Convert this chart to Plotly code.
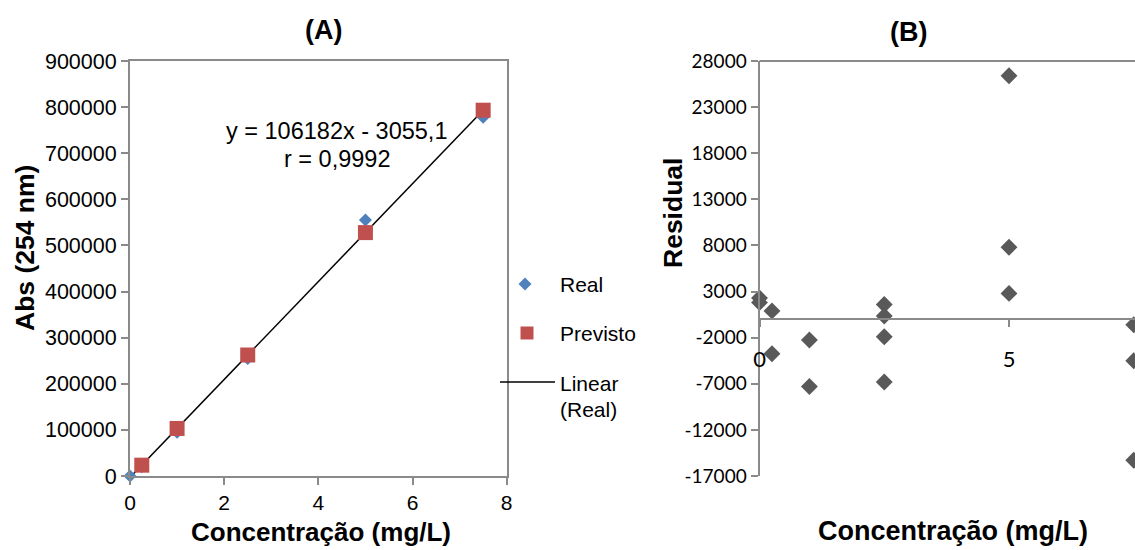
import plotly.graph_objects as go

# ---------------- data ----------------
real_x = [0, 0.25, 1, 2.5, 5, 7.5]
real_y = [0, 20000, 95000, 255000, 555000, 778000]
prev_x = [0.25, 1, 2.5, 5, 7.5]
prev_y = [23490, 103127, 262400, 527855, 793310]
trend_slope = 106182
trend_intercept = -3055.1
trend_x = [0, 7.5]
resid_x = [0, 0, 0.25, 0.25, 1, 1, 2.5, 2.5, 2.5, 2.5, 5, 5, 5, 7.5, 7.5, 7.5]
resid_y = [2300, 1800, 900, -3750, -2250, -7300, 1600, 350, -1900, -6800,
           26400, 7800, 2800, -600, -4500, -15300]
a_yticks = [0, 100000, 200000, 300000, 400000, 500000, 600000, 700000, 800000, 900000]
b_yticks = [-17000, -12000, -7000, -2000, 3000, 8000, 13000, 18000, 23000, 28000]
b_yticklabels = ["-17000", "-12000", "-7000", "-2000", "3000", "8000",
                 "13000", "18000", "23000", "28000"]

W, H = 1135, 550
def px(x): return x / W
def py(y): return 1 - y / H

TOP, BOT = 61, 476
A_L, A_R = 130, 506.7
B_L, B_R = 759.5, 1135
B_MIN, B_MAX = -17000, 28000
zero_pix = TOP + (B_MAX - 0) / (B_MAX - B_MIN) * (BOT - TOP)

AX = "#8a8a8a"
ARIAL = "Liberation Sans, Arial, sans-serif"
CAL = "Lato, Carlito, Calibri, sans-serif"

fig = go.Figure()
trend_y = [trend_slope * x + trend_intercept for x in trend_x]
fig.add_trace(go.Scatter(x=trend_x, y=trend_y, mode="lines",
                         line=dict(color="black", width=1.5),
                         xaxis="x", yaxis="y", showlegend=False))
fig.add_trace(go.Scatter(x=real_x, y=real_y, mode="markers",
                         marker=dict(symbol="diamond", size=10, color="#4F81BD"),
                         xaxis="x", yaxis="y", cliponaxis=False, showlegend=False))
fig.add_trace(go.Scatter(x=prev_x, y=prev_y, mode="markers",
                         marker=dict(symbol="square", size=15, color="#C0504D"),
                         xaxis="x", yaxis="y", cliponaxis=False, showlegend=False))
fig.add_trace(go.Scatter(x=resid_x, y=resid_y, mode="markers",
                         marker=dict(symbol="diamond", size=13, color="#595959"),
                         xaxis="x2", yaxis="y2", cliponaxis=False, showlegend=False))
# legend symbols on an overlay pixel axis
fig.add_trace(go.Scatter(x=[525], y=[284], mode="markers",
                         marker=dict(symbol="diamond", size=10, color="#4F81BD"),
                         xaxis="x3", yaxis="y3", showlegend=False, cliponaxis=False))
fig.add_trace(go.Scatter(x=[527], y=[333], mode="markers",
                         marker=dict(symbol="square", size=13, color="#C0504D"),
                         xaxis="x3", yaxis="y3", showlegend=False, cliponaxis=False))

fig.update_layout(
    width=W, height=H, margin=dict(l=0, r=0, t=0, b=0, pad=0, autoexpand=False),
    paper_bgcolor="white", plot_bgcolor="rgba(0,0,0,0)",
    showlegend=False,
    xaxis=dict(domain=[px(A_L), px(A_R)], range=[0, 8], dtick=2, tick0=0,
               showline=True, linecolor=AX, linewidth=2, mirror=True,
               ticks="outside", ticklen=7, tickcolor=AX, tickwidth=2,
               showgrid=False, zeroline=False, anchor="y", automargin=False,
               tickfont=dict(family=ARIAL, size=21, color="black")),
    yaxis=dict(domain=[py(BOT), py(TOP)], range=[0, 900000],
               tickvals=a_yticks, tickformat="d",
               showline=True, linecolor=AX, linewidth=2, mirror=True,
               ticks="outside", ticklen=7, tickcolor=AX, tickwidth=2,
               showgrid=False, zeroline=False, anchor="x", automargin=False,
               tickfont=dict(family=ARIAL, size=21.5, color="black")),
    xaxis2=dict(domain=[px(B_L), px(B_R)], range=[0, (B_R - B_L) / 49.9],
                tickvals=[0, 5], anchor="free", position=py(zero_pix),
                showline=True, linecolor=AX, linewidth=2,
                ticks="outside", ticklen=7, tickcolor=AX, tickwidth=2,
                ticklabelstandoff=13, automargin=False,
                showgrid=False, zeroline=False,
                tickfont=dict(family=CAL, size=22, color="black")),
    yaxis2=dict(domain=[py(BOT), py(TOP)], range=[B_MIN, B_MAX],
                tickvals=b_yticks, ticktext=b_yticklabels, anchor="x2",
                showline=True, linecolor=AX, linewidth=2,
                ticks="outside", ticklen=7, tickcolor=AX, tickwidth=2,
                showgrid=False, zeroline=False, automargin=False,
                tickfont=dict(family=CAL, size=19, color="black")),
    xaxis3=dict(domain=[0, 1], range=[0, W], visible=False, anchor="y3",
                fixedrange=True, automargin=False),
    yaxis3=dict(domain=[0, 1], range=[H, 0], visible=False, anchor="x3",
                fixedrange=True, automargin=False),
)

shapes = [
    dict(type="line", xref="paper", yref="paper", x0=px(B_L), x1=1, y0=py(TOP), y1=py(TOP),
         line=dict(color=AX, width=2)),
    dict(type="line", xref="x3", yref="y3", x0=500, x1=555, y0=382, y1=382,
         line=dict(color="black", width=1.5)),
]
fig.update_layout(shapes=shapes)

def ann(text, x, y, size, bold=False, family=ARIAL, xanchor="center", angle=0):
    t = f"<b>{text}</b>" if bold else text
    return dict(text=t, x=x, y=y, xref="x3", yref="y3", showarrow=False,
                xanchor=xanchor, yanchor="middle", textangle=angle,
                font=dict(family=family, size=size, color="black"))

annotations = [
    ann("(A)", 323, 30, 27, bold=True),
    ann("(B)", 908, 32, 27, bold=True),
    ann("Concentração (mg/L)", 321, 532, 26, bold=True),
    ann("Concentração (mg/L)", 953, 531, 27, bold=True),
    ann("Abs (254 nm)", 25, 248, 26.5, bold=True, angle=-90),
    ann("Residual", 673, 213, 26.5, bold=True, angle=-90),
    ann("y = 106182x - 3055,1", 336, 131, 23.5),
    ann("r = 0,9992", 337, 159, 23.5),
    ann("Real", 558, 284, 21, xanchor="left"),
    ann("Previsto", 558, 333, 21, xanchor="left"),
    ann("Linear", 558, 383, 21, xanchor="left"),
    ann("(Real)", 558, 409, 21, xanchor="left"),
]
fig.update_layout(annotations=annotations)

fig.write_html("out.html")
